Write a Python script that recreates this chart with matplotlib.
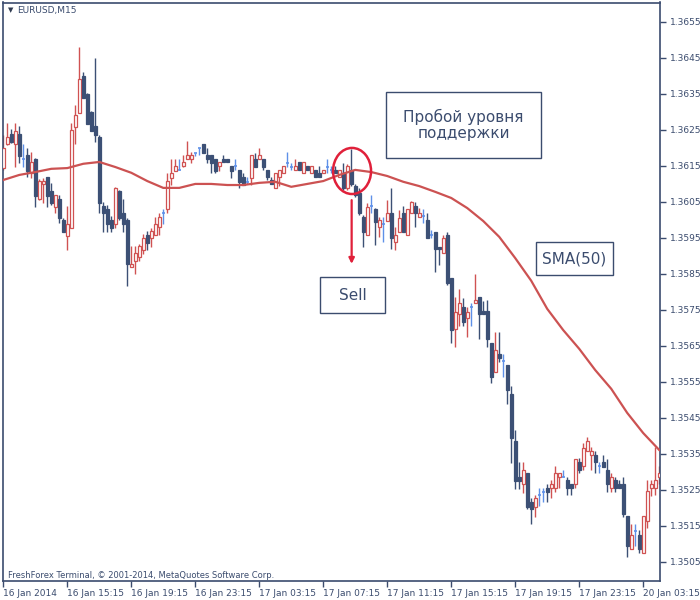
import matplotlib
matplotlib.use("Agg")
import matplotlib.pyplot as plt
from matplotlib.patches import Ellipse, Rectangle

# EURUSD M15 candles (bar 0 = 16 Jan 2014 11:15)
opens = [
    1.36144, 1.36211, 1.36239, 1.36211, 1.36239, 1.36169, 1.36180, 1.36130, 1.36169, 1.36058,
    1.36100, 1.36119, 1.36080, 1.36036, 1.36058, 1.36000, 1.35955, 1.35978, 1.36258, 1.36297,
    1.36400, 1.36350, 1.36300, 1.36261, 1.36230, 1.36039, 1.36030, 1.36000, 1.35989, 1.36080,
    1.36019, 1.36000, 1.35869, 1.35886, 1.35897, 1.35917, 1.35958, 1.35950, 1.35958, 1.35980,
    1.36019, 1.36030, 1.36117, 1.36136, 1.36139, 1.36150, 1.36169, 1.36169, 1.36186, 1.36200,
    1.36211, 1.36180, 1.36180, 1.36169, 1.36150, 1.36169, 1.36169, 1.36150, 1.36150, 1.36139,
    1.36119, 1.36105, 1.36117, 1.36169, 1.36169, 1.36169, 1.36139, 1.36111, 1.36089, 1.36119,
    1.36130, 1.36158, 1.36147, 1.36139, 1.36161, 1.36130, 1.36150, 1.36130, 1.36139, 1.36130,
    1.36130, 1.36147, 1.36139, 1.36139, 1.36119, 1.36130, 1.36089, 1.36139, 1.36094, 1.36075,
    1.36008, 1.35958, 1.36039, 1.36030, 1.35980, 1.35989, 1.35997, 1.36019, 1.35939, 1.35967,
    1.36019, 1.35958, 1.36019, 1.36039, 1.36008, 1.36011, 1.36000, 1.35958, 1.35967, 1.35925,
    1.35908, 1.35958, 1.35839, 1.35697, 1.35739, 1.35758, 1.35728, 1.35758, 1.35769, 1.35786,
    1.35747, 1.35747, 1.35658, 1.35578, 1.35628, 1.35608, 1.35597, 1.35517, 1.35386, 1.35286,
    1.35266, 1.35297, 1.35216, 1.35203, 1.35236, 1.35244, 1.35255, 1.35255, 1.35255, 1.35286,
    1.35286, 1.35278, 1.35266, 1.35266, 1.35328, 1.35317, 1.35358, 1.35347, 1.35347, 1.35317,
    1.35328, 1.35305, 1.35255, 1.35278, 1.35266, 1.35266, 1.35178, 1.35086, 1.35136, 1.35125,
    1.35075, 1.35164, 1.35255, 1.35255, 1.35286,
]
highs = [
    1.36236, 1.36269, 1.36253, 1.36269, 1.36261, 1.36211, 1.36200, 1.36189, 1.36172, 1.36114,
    1.36117, 1.36119, 1.36103, 1.36069, 1.36069, 1.36005, 1.36039, 1.36269, 1.36319, 1.36480,
    1.36411, 1.36353, 1.36303, 1.36450, 1.36236, 1.36050, 1.36042, 1.36011, 1.36092, 1.36083,
    1.36058, 1.36005, 1.35928, 1.35928, 1.35933, 1.35961, 1.35969, 1.35978, 1.36008, 1.36019,
    1.36030, 1.36130, 1.36169, 1.36169, 1.36169, 1.36180, 1.36219, 1.36189, 1.36186, 1.36200,
    1.36211, 1.36200, 1.36180, 1.36169, 1.36161, 1.36180, 1.36169, 1.36150, 1.36169, 1.36139,
    1.36130, 1.36119, 1.36180, 1.36186, 1.36200, 1.36169, 1.36139, 1.36119, 1.36130, 1.36139,
    1.36150, 1.36189, 1.36158, 1.36169, 1.36161, 1.36161, 1.36150, 1.36150, 1.36139, 1.36150,
    1.36139, 1.36169, 1.36150, 1.36150, 1.36139, 1.36158, 1.36155, 1.36197, 1.36100, 1.36089,
    1.36014, 1.36047, 1.36069, 1.36033, 1.36008, 1.36008, 1.36055, 1.36089, 1.35980, 1.36028,
    1.36039, 1.36030, 1.36053, 1.36050, 1.36033, 1.36030, 1.36019, 1.35972, 1.35967, 1.35925,
    1.35958, 1.35967, 1.35839, 1.35786, 1.35808, 1.35783, 1.35758, 1.35769, 1.35850, 1.35786,
    1.35775, 1.35778, 1.35658, 1.35689, 1.35689, 1.35628, 1.35597, 1.35539, 1.35417, 1.35328,
    1.35328, 1.35297, 1.35228, 1.35236, 1.35255, 1.35255, 1.35266, 1.35278, 1.35317, 1.35297,
    1.35305, 1.35286, 1.35266, 1.35336, 1.35339, 1.35380, 1.35397, 1.35369, 1.35358, 1.35328,
    1.35347, 1.35336, 1.35297, 1.35286, 1.35278, 1.35286, 1.35178, 1.35155, 1.35155, 1.35139,
    1.35178, 1.35278, 1.35278, 1.35369, 1.35317,
]
lows = [
    1.36139, 1.36208, 1.36214, 1.36147, 1.36158, 1.36147, 1.36119, 1.36117, 1.36036, 1.36055,
    1.36047, 1.36036, 1.36042, 1.36019, 1.35992, 1.35967, 1.35917, 1.35978, 1.36211, 1.36297,
    1.36339, 1.36267, 1.36247, 1.36217, 1.36019, 1.35967, 1.35967, 1.35967, 1.35978, 1.36000,
    1.35967, 1.35817, 1.35869, 1.35850, 1.35886, 1.35905, 1.35917, 1.35925, 1.35958, 1.35958,
    1.35989, 1.36019, 1.36097, 1.36136, 1.36139, 1.36147, 1.36169, 1.36158, 1.36178, 1.36180,
    1.36186, 1.36158, 1.36130, 1.36130, 1.36136, 1.36161, 1.36161, 1.36117, 1.36139, 1.36089,
    1.36097, 1.36100, 1.36097, 1.36147, 1.36169, 1.36139, 1.36111, 1.36100, 1.36089, 1.36094,
    1.36130, 1.36147, 1.36139, 1.36139, 1.36139, 1.36130, 1.36139, 1.36130, 1.36119, 1.36119,
    1.36130, 1.36130, 1.36130, 1.36130, 1.36119, 1.36083, 1.36083, 1.36094, 1.36064, 1.36014,
    1.35925, 1.35958, 1.36019, 1.35930, 1.35953, 1.35939, 1.35997, 1.35919, 1.35917, 1.35967,
    1.35967, 1.35958, 1.36019, 1.35980, 1.36008, 1.35992, 1.35950, 1.35950, 1.35855, 1.35875,
    1.35908, 1.35819, 1.35658, 1.35647, 1.35705, 1.35705, 1.35675, 1.35705, 1.35769, 1.35669,
    1.35739, 1.35647, 1.35547, 1.35578, 1.35605, 1.35564, 1.35489, 1.35325, 1.35253, 1.35253,
    1.35241, 1.35197, 1.35155, 1.35175, 1.35205, 1.35216, 1.35216, 1.35228, 1.35244, 1.35255,
    1.35286, 1.35236, 1.35236, 1.35255, 1.35297, 1.35305, 1.35358, 1.35305, 1.35297, 1.35297,
    1.35314, 1.35244, 1.35244, 1.35244, 1.35255, 1.35175, 1.35064, 1.35086, 1.35094, 1.35075,
    1.35075, 1.35144, 1.35233, 1.35236, 1.35266,
]
closes = [
    1.36200, 1.36230, 1.36217, 1.36247, 1.36178, 1.36169, 1.36136, 1.36161, 1.36067, 1.36108,
    1.36108, 1.36067, 1.36047, 1.36069, 1.36005, 1.35967, 1.35989, 1.36250, 1.36292, 1.36392,
    1.36339, 1.36267, 1.36247, 1.36236, 1.36047, 1.36019, 1.35989, 1.35978, 1.36089, 1.36005,
    1.35989, 1.35878, 1.35878, 1.35908, 1.35928, 1.35950, 1.35936, 1.35969, 1.35989, 1.36008,
    1.36019, 1.36108, 1.36130, 1.36150, 1.36139, 1.36161, 1.36180, 1.36180, 1.36186, 1.36200,
    1.36186, 1.36169, 1.36158, 1.36136, 1.36161, 1.36161, 1.36161, 1.36136, 1.36150, 1.36105,
    1.36097, 1.36105, 1.36180, 1.36147, 1.36180, 1.36147, 1.36119, 1.36100, 1.36130, 1.36139,
    1.36150, 1.36158, 1.36147, 1.36150, 1.36139, 1.36161, 1.36139, 1.36150, 1.36119, 1.36119,
    1.36139, 1.36147, 1.36139, 1.36130, 1.36139, 1.36089, 1.36150, 1.36100, 1.36069, 1.36019,
    1.35967, 1.36036, 1.36039, 1.35994, 1.36000, 1.35989, 1.36019, 1.35950, 1.35958, 1.36005,
    1.35967, 1.36030, 1.36050, 1.36019, 1.36019, 1.36011, 1.35950, 1.35958, 1.35919, 1.35919,
    1.35950, 1.35825, 1.35694, 1.35744, 1.35769, 1.35717, 1.35744, 1.35758, 1.35778, 1.35739,
    1.35739, 1.35669, 1.35564, 1.35639, 1.35617, 1.35608, 1.35528, 1.35394, 1.35275, 1.35275,
    1.35305, 1.35203, 1.35197, 1.35228, 1.35236, 1.35244, 1.35244, 1.35266, 1.35297, 1.35297,
    1.35286, 1.35255, 1.35255, 1.35336, 1.35305, 1.35367, 1.35386, 1.35358, 1.35328, 1.35317,
    1.35314, 1.35266, 1.35286, 1.35255, 1.35255, 1.35183, 1.35094, 1.35125, 1.35136, 1.35086,
    1.35178, 1.35247, 1.35266, 1.35278, 1.35297,
]

# SMA(50) read every 4 bars
sma_bars = list(range(0, 165, 4))
sma_values = [
    1.36111, 1.36125, 1.36133, 1.36142, 1.36144, 1.36156, 1.36161, 1.36147, 1.36131, 1.36108,
    1.36089, 1.36089, 1.36100, 1.36100, 1.36097, 1.36097, 1.36103, 1.36106, 1.36092, 1.36100,
    1.36108, 1.36125, 1.36139, 1.36133, 1.36122, 1.36106, 1.36094, 1.36078, 1.36061, 1.36033,
    1.35997, 1.35953, 1.35894, 1.35831, 1.35753, 1.35694, 1.35642, 1.35583, 1.35531, 1.35464,
    1.35408, 1.35361,
]

tick_bars = [0, 16, 32, 48, 64, 80, 96, 112, 128, 144, 160]
tick_labels = ["16 Jan 2014", "16 Jan 15:15", "16 Jan 19:15", "16 Jan 23:15",
               "17 Jan 03:15", "17 Jan 07:15", "17 Jan 11:15", "17 Jan 15:15",
               "17 Jan 19:15", "17 Jan 23:15", "20 Jan 03:15"]
price_ticks = [1.3505, 1.3515, 1.3525, 1.3535, 1.3545, 1.3555, 1.3565, 1.3575,
               1.3585, 1.3595, 1.3605, 1.3615, 1.3625, 1.3635, 1.3645, 1.3655]

NAVY = "#3b4c6e"
BULL = "#d05252"
BEAR = "#3c5075"
DOJI = "#5e90e8"
MARK = "#e0203a"
TXT = "#3b4c6e"

plt.rcParams["font.family"] = ["DejaVu Sans"]

fig = plt.figure(figsize=(7, 6), dpi=100)


def fx(x):
    return x / 700


def fy(y):
    return 1 - y / 600


ax = fig.add_axes([fx(2.5), fy(581), fx(657.5), 578.5 / 600])
ax.set_xlim(-0.2, 164.2)
ax.set_ylim(1.34997, 1.36604)

w = 0.72
for i in range(len(opens)):
    o, h, l, c = opens[i], highs[i], lows[i], closes[i]
    if c > o:
        col = BULL
    elif c < o:
        col = BEAR
    else:
        col = DOJI
    ax.vlines(i, l, h, color=col, lw=1.0, zorder=2)
    if c == o:
        ax.hlines(o, i - w / 2, i + w / 2, color=col, lw=1.2, zorder=3)
    elif c > o:
        ax.add_patch(Rectangle((i - w / 2, o), w, c - o, facecolor="white",
                               edgecolor=col, lw=0.9, zorder=3))
    else:
        ax.add_patch(Rectangle((i - w / 2, c), w, o - c, facecolor=col,
                               edgecolor=col, lw=0.9, zorder=3))

ax.plot(sma_bars, sma_values, color="#cc5252", lw=1.6, zorder=4,
        solid_joinstyle="round")

# breakdown marker and sell arrow
ax.add_patch(Ellipse((87.2, 1.36136), 9.5, 0.00128, fill=False,
                     edgecolor=MARK, lw=1.8, zorder=5))
ax.annotate("", xy=(87.1, 1.35878), xytext=(87.1, 1.36055),
            arrowprops=dict(arrowstyle="-|>", color=MARK, lw=1.6,
                            mutation_scale=8, shrinkA=0, shrinkB=0), zorder=5)

for s in ax.spines.values():
    s.set_color(NAVY)
    s.set_linewidth(1.2)

ax.yaxis.tick_right()
ax.set_yticks(price_ticks)
ax.set_yticklabels([f"{p:.4f}" for p in price_ticks])
ax.set_xticks(tick_bars)
ax.set_xticklabels(tick_labels)
ax.tick_params(axis="both", direction="out", length=4, width=1, color=NAVY,
               labelcolor=TXT, labelsize=6.5)
ax.tick_params(axis="y", pad=3)
ax.tick_params(axis="x", pad=2)
for lab in ax.get_xticklabels():
    lab.set_ha("left")

# text boxes
boxes = [
    (386, 92, 541, 158, "Пробой уровня\nподдержки"),
    (320, 277, 385, 313, "Sell"),
    (536, 242, 613, 275, "SMA(50)"),
]
for x0, y0, x1, y1, label in boxes:
    fig.patches.append(Rectangle((fx(x0), fy(y1)), fx(x1 - x0), (y1 - y0) / 600,
                                 transform=fig.transFigure, facecolor="white",
                                 edgecolor=NAVY, lw=1.0, zorder=6))
    fig.text(fx((x0 + x1) / 2), fy((y0 + y1) / 2), label, ha="center",
             va="center", fontsize=11, color=TXT, linespacing=1.1, zorder=7)

fig.text(fx(8), fy(10), "\u25bc", fontsize=5, color="#2f3a50", va="center")
fig.text(fx(17), fy(10), "EURUSD,M15", fontsize=6.5, color=TXT, va="center")
fig.text(fx(8), fy(575), "FreshForex Terminal, \u00a9 2001-2014, MetaQuotes Software Corp.",
         fontsize=6, color=TXT, va="center")

fig.savefig("out.png", dpi=100)
